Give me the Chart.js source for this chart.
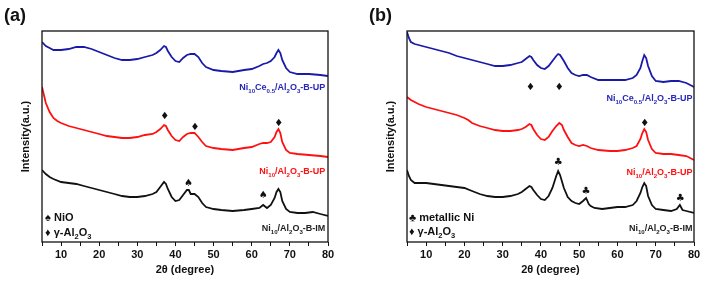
<!DOCTYPE html>
<html>
<head>
<meta charset="utf-8">
<script src="https://cdn.jsdelivr.net/npm/chart.js@4.4.1/dist/chart.umd.min.js"></script>
<style>
  body { margin:0; background:#fff; width:703px; height:282px; position:relative; overflow:hidden; font-family:'Liberation Sans', Arial, sans-serif; }
  .panel { position:absolute; top:0; height:282px; }
  .tag { position:absolute; top:5px; font-weight:bold; font-size:18px; color:#111; }
</style>
</head>
<body>
<div class="panel" style="left:0;width:352px"><canvas id="chartA"></canvas></div>
<div class="panel" style="left:352px;width:351px"><canvas id="chartB"></canvas></div>
<div class="tag" style="left:4px">(a)</div>
<div class="tag" style="left:369px">(b)</div>
<script>
// XRD patterns, 2theta in degrees, intensity in arbitrary (offset) units

// panel (a)
const aBlueX = [5,6,7,8,10,12,14,16,18,20,22,24,26,28,30,32,34,35,36,37,37.5,38,39,40,41,42,43,44,45,46,47,48,50,52,55,58,60,62,63,64,65,66,66.5,67,67.5,68,69,70,72,75,78,80];
const aBlueY = [200,196,194,192,192,193,195,195,193,190,187,184,182,182,183,185,187,189,192,196,195,191,185,181,180,184,187,188,188,185,179,175,172,171,170,172,173,176,178,179,181,185,189,192,189,182,174,170,168,168,167,166];

const aRedX = [5,5.5,6,7,8,9,10,12,14,16,18,20,22,24,26,28,30,32,34,35,36,37,37.5,38,39,40,41,42,43,44,45,46,47,48,50,52,55,58,60,62,63,64,65,66,66.5,67,67.5,68,69,70,72,75,78,80];
const aRedY = [155,147,139,130,124,121,119,116,114,112,110,108,106,105,104,104,105,107,108,110,113,117,116,112,106,102,101,105,108,109,109,105,100,96,94,93,92,94,95,98,99,99,100,105,110,113,109,100,92,89,88,87,86,85];

const aBlackX = [5,6,7,8,10,12,14,16,18,20,22,24,26,28,30,32,34,35,36,37,37.5,38,39,40,41,42,43,43.5,44,45,46,47,48,50,52,55,58,60,62,63,64,65,66,66.5,67,67.5,68,69,70,72,74,76,78,80];
const aBlackY = [72,68,65,63,60,59,58,56,54,52,50,48,46,45,45,46,48,50,55,60,58,53,45,41,42,47,52,52,48,48,45,39,35,33,32,31,32,33,34,37,34,37,44,50,53,50,41,33,30,29,29,30,28,26];

// panel (b)
const bBlueX = [5,5.5,6,7,8,10,12,14,16,18,20,22,24,26,28,30,32,34,35,36,37,37.5,38,39,40,41,42,43,44,44.5,45,46,47,48,49,50,51,52,53,55,58,60,62,64,65,66,66.5,67,67.5,68,69,70,72,74,76,78,80];
const bBlueY = [210,204,200,198,197,195,193,191,189,186,184,182,180,178,176,176,177,179,180,183,186,185,182,177,174,173,176,181,186,188,187,181,174,169,167,166,167,167,165,162,162,162,162,164,167,174,181,187,184,176,166,161,160,161,161,159,155];

const bRedX = [5,6,7,8,10,12,14,16,18,20,21,22,24,26,28,30,32,34,35,36,37,37.5,38,39,40,41,42,43,44,44.8,45.5,46,47,48,49,50,51,52,53,55,58,60,62,64,65,66,66.5,67,67.5,68,69,70,72,74,76,78,80];
const bRedY = [145,142,140,138,135,133,131,129,127,124,122,119,116,114,112,111,111,112,113,115,118,117,113,107,103,102,105,111,116,119,117,112,105,99,97,96,97,96,94,92,91,91,92,94,96,103,109,113,110,102,93,89,88,88,87,86,82];

const bBlackX = [5,5.5,6,7,8,10,12,14,16,18,20,22,24,26,28,30,32,34,35,36,37,37.5,38,39,40,41,42,43,44,44.5,45,46,47,48,49,50,51,51.8,52.5,53,54,56,58,60,62,64,65,66,66.5,67,67.5,68,69,70,72,74,75.5,76.3,77,78,80];
const bBlackY = [72,66,62,59,59,59,58,57,56,55,54,51,48,46,45,45,46,48,50,53,56,55,52,47,43,42,46,54,66,71,67,54,45,41,39,38,41,44,38,36,34,33,34,35,35,37,41,49,55,59,56,46,37,33,32,31,33,37,32,31,29];

const xTicks = [10,20,30,40,50,60,70,80];

const BLUE = '#1a1aa8';
const RED = '#ff1010';
const BLACK = '#111111';
const FONT = '"Liberation Sans", Arial, sans-serif';

// text with _{subscript} parts, drawn in data coordinates
function drawRich(ctx, text, x, y, size, color, align) {
  const parts = [];
  text.split(/(_\{[^}]*\})/).forEach(p => {
    if (!p) return;
    if (p.startsWith('_{')) parts.push([p.slice(2, -1), true]);
    else parts.push([p, false]);
  });
  const sub = size * 0.68;
  let w = 0;
  parts.forEach(p => {
    ctx.font = 'bold ' + (p[1] ? sub : size) + 'px ' + FONT;
    w += ctx.measureText(p[0]).width;
  });
  let cx = align === 'right' ? x - w : x;
  ctx.fillStyle = color;
  ctx.textAlign = 'left';
  ctx.textBaseline = 'middle';
  parts.forEach(p => {
    ctx.font = 'bold ' + (p[1] ? sub : size) + 'px ' + FONT;
    ctx.fillText(p[0], cx, p[1] ? y + size * 0.32 : y);
    cx += ctx.measureText(p[0]).width;
  });
}

const notesPlugin = {
  id: 'notes',
  afterDraw(chart, args, opts) {
    const ctx = chart.ctx;
    const a = chart.chartArea;
    ctx.save();
    ctx.strokeStyle = BLACK;
    ctx.lineWidth = 1.3;
    ctx.strokeRect(a.left, a.top, a.right - a.left, a.bottom - a.top);
    (opts.items || []).forEach(n => {
      const px = chart.scales.x.getPixelForValue(n.x);
      const py = chart.scales.y.getPixelForValue(n.y);
      if (n.mark) {
        ctx.font = (n.size || 10) + 'px "DejaVu Sans", sans-serif';
        ctx.fillStyle = BLACK;
        ctx.textAlign = 'center';
        ctx.textBaseline = 'middle';
        ctx.fillText(n.mark, px, py);
      } else {
        drawRich(ctx, n.text, px, py, n.size || 9, n.color || BLACK, n.align);
      }
    });
    ctx.restore();
  }
};

function series(xs, ys, color) {
  return {
    data: xs.map((x, i) => ({ x: x, y: ys[i] })),
    borderColor: color,
    borderWidth: 1.8,
    pointRadius: 0,
    tension: 0,
    fill: false
  };
}

function makeChart(id, datasets, items, yWidth, padRight) {
  return new Chart(document.getElementById(id), {
    type: 'line',
    data: { datasets: datasets },
    plugins: [notesPlugin],
    options: {
      responsive: true,
      maintainAspectRatio: false,
      animation: false,
      layout: { padding: { top: 31, right: padRight, left: 0, bottom: 0 } },
      plugins: { legend: { display: false }, tooltip: { enabled: false }, notes: { items: items } },
      scales: {
        x: {
          type: 'linear', min: 5, max: 80,
          afterFit: s => { s.height = 40; },
          afterBuildTicks: s => {
            const t = [];
            for (let v = 5; v <= 80; v += 5) t.push({ value: v });
            s.ticks = t;
          },
          ticks: {
            color: BLACK, padding: 2, maxRotation: 0,
            font: { family: FONT, size: 11, weight: 'bold' },
            callback: v => (xTicks.includes(v) ? String(v) : '')
          },
          grid: { drawOnChartArea: false, drawTicks: true, tickLength: 4, color: BLACK, lineWidth: 1 },
          border: { display: false },
          title: { display: true, text: '2θ (degree)', color: BLACK, padding: { top: 0, bottom: 5 },
                   font: { family: FONT, size: 11, weight: 'bold' } }
        },
        y: {
          min: 0, max: 211,
          afterFit: s => { s.width = yWidth; },
          ticks: { display: false },
          grid: { display: false },
          border: { display: false },
          title: { display: true, text: 'Intensity(a.u.)', color: BLACK, padding: { top: yWidth - 23, bottom: 0 },
                   font: { family: FONT, size: 11, weight: 'bold' } }
        }
      }
    }
  });
}

makeChart('chartA', [
  series(aBlueX, aBlueY, BLUE),
  series(aRedX, aRedY, RED),
  series(aBlackX, aBlackY, BLACK)
], [
  { text: 'Ni_{10}Ce_{0.5}/Al_{2}O_{3}-B-UP', x: 79.3, y: 154, color: '#2828b8', align: 'right' },
  { text: 'Ni_{10}/Al_{2}O_{3}-B-UP', x: 79.3, y: 70, color: RED, align: 'right' },
  { text: 'Ni_{10}/Al_{2}O_{3}-B-IM', x: 79.3, y: 13, color: '#222', align: 'right' },
  { mark: '♦', x: 37.2, y: 126 },
  { mark: '♦', x: 45.1, y: 115 },
  { mark: '♦', x: 67.1, y: 119 },
  { mark: '♠', x: 43.4, y: 59 },
  { mark: '♠', x: 63.0, y: 47 },
  { text: '♠ NiO', x: 5.8, y: 24, size: 11, align: 'left' },
  { text: '♦ γ-Al_{2}O_{3}', x: 5.8, y: 9, size: 11, align: 'left' }
], 42, 24);

makeChart('chartB', [
  series(bBlueX, bBlueY, BLUE),
  series(bRedX, bRedY, RED),
  series(bBlackX, bBlackY, BLACK)
], [
  { text: 'Ni_{10}Ce_{0.5}/Al_{2}O_{3}-B-UP', x: 79.6, y: 143, color: '#2828b8', align: 'right' },
  { text: 'Ni_{10}/Al_{2}O_{3}-B-UP', x: 79.6, y: 69, color: RED, align: 'right' },
  { text: 'Ni_{10}/Al_{2}O_{3}-B-IM', x: 79.6, y: 13, color: '#222', align: 'right' },
  { mark: '♦', x: 37.3, y: 155 },
  { mark: '♦', x: 44.8, y: 155 },
  { mark: '♦', x: 67.1, y: 119 },
  { mark: '♣', x: 44.5, y: 80 },
  { mark: '♣', x: 51.8, y: 51 },
  { mark: '♣', x: 76.4, y: 44 },
  { text: '♣ metallic Ni', x: 5.5, y: 24, size: 11, align: 'left' },
  { text: '♦ γ-Al_{2}O_{3}', x: 5.5, y: 10, size: 11, align: 'left' }
], 55, 9);
</script>
</body>
</html>
